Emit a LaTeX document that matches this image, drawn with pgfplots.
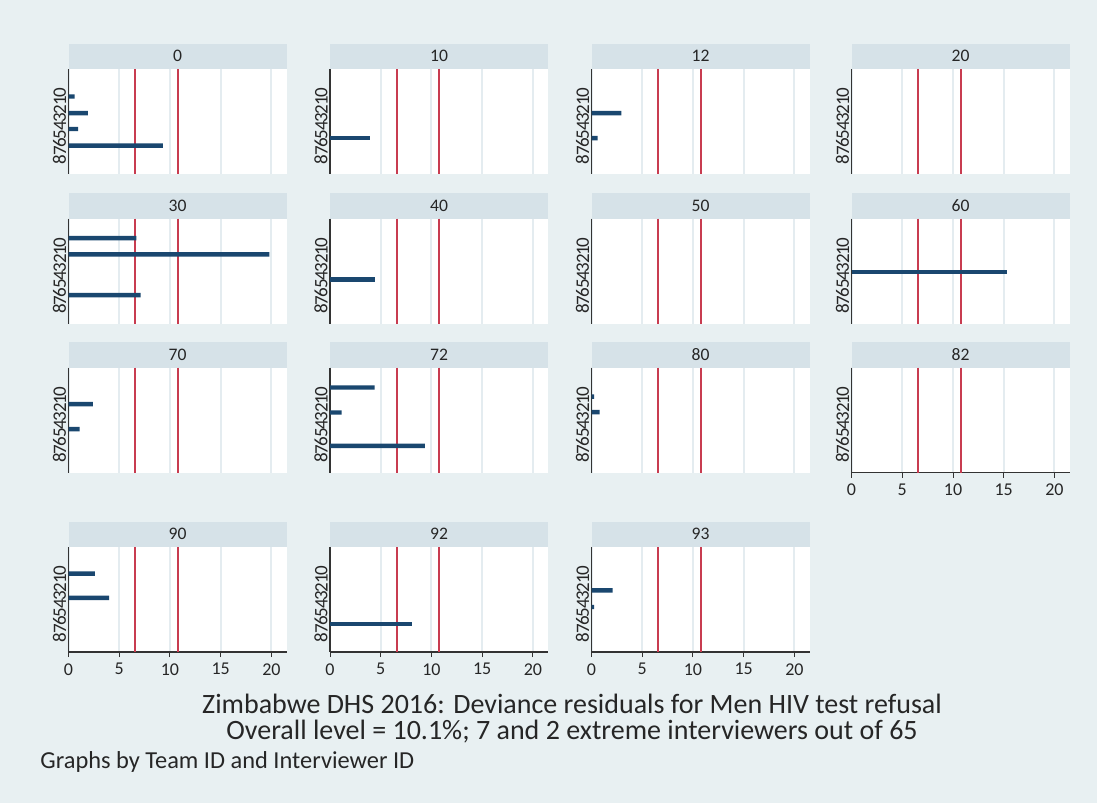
\documentclass[border=0pt]{standalone}
\usepackage{pgfplots}
\pgfplotsset{compat=1.18}
\usepackage{fontspec}
\setmainfont{Carlito}
\definecolor{bgcol}{RGB}{232,240,242}
\definecolor{stripcol}{RGB}{214,226,232}
\definecolor{barcol}{RGB}{26,71,111}
\definecolor{redcol}{RGB}{200,60,80}
\definecolor{gridcol}{RGB}{228,236,240}
\pgfplotsset{
  panel/.style={
    anchor=north west, scale only axis, width=109pt, height=52.5pt,
    xmin=0, xmax=21.48, ymin=-2.5, ymax=10.1, y dir=reverse,
    axis lines*=left, separate axis lines,
    axis line style={black!80, line width=0.6pt},
    axis background/.style={fill=white},
    xtick={0,5,10,15,20}, xmajorgrids, grid style={gridcol, line width=1pt},
    ytick={0,...,8},
    yticklabel style={rotate=90, anchor=south, font=\fontsize{9.5}{9.5}\selectfont, inner sep=1pt, xshift=-1.5pt, text=black!85},
    ytick style={draw=none},
    xtick align=outside, major tick length=2.5pt,
    xtick style={black!80, line width=0.5pt},
    xticklabel style={font=\fontsize{9}{9}\selectfont, inner sep=1pt, yshift=-2pt, text=black!85},
    /pgf/number format/assume math mode=true,
    clip=false,
  },
  noxaxis/.style={xticklabels={}, x axis line style={draw=none}, xtick style={draw=none}},
  bars/.style={xbar, bar width=2.2pt, fill=barcol, draw=none, forget plot},
}
\newcommand{\reflines}{%
  \addplot[redcol, line width=1pt] coordinates {(6.6,-2.5) (6.6,10.1)};
  \addplot[redcol, line width=1pt] coordinates {(10.75,-2.5) (10.75,10.1)};
}
% strip header: x (px), top of plot (px), label
\newcommand{\strip}[3]{%
  \fill[stripcol] ({#1*0.5pt},{-(#2-25.5)*0.5pt}) rectangle ({(#1+218)*0.5pt},{-#2*0.5pt});
  \node[font=\fontsize{8.8}{8.8}\selectfont, text=black!85] at ({(#1+109)*0.5pt},{-(#2-12.75)*0.5pt}) {#3};
}
\begin{document}
\begin{tikzpicture}
\fill[bgcol] (0,0) rectangle (548.5pt,-401.5pt);
% ---------- row 1 ----------
\strip{68.5}{69}{0}
\begin{axis}[panel, noxaxis, at={(34.25pt,-34.5pt)}]
  \reflines
  \addplot[bars] coordinates {(0.6,0.8) (1.9,2.8) (0.95,4.7) (9.3,6.7)};
\end{axis}
\strip{330}{69}{10}
\begin{axis}[panel, noxaxis, at={(165pt,-34.5pt)}]
  \reflines
  \addplot[bars] coordinates {(3.9,5.8)};
\end{axis}
\strip{591.5}{69}{12}
\begin{axis}[panel, noxaxis, at={(295.75pt,-34.5pt)}]
  \reflines
  \addplot[bars] coordinates {(2.95,2.8) (0.6,5.8)};
\end{axis}
\strip{851.5}{69}{20}
\begin{axis}[panel, noxaxis, at={(425.75pt,-34.5pt)}]
  \reflines
\end{axis}
% ---------- row 2 ----------
\strip{68.5}{218.5}{30}
\begin{axis}[panel, noxaxis, at={(34.25pt,-109.25pt)}]
  \reflines
  \addplot[bars] coordinates {(6.7,-0.15) (19.8,1.8) (7.1,6.7)};
\end{axis}
\strip{330}{218.5}{40}
\begin{axis}[panel, noxaxis, at={(165pt,-109.25pt)}]
  \reflines
  \addplot[bars] coordinates {(4.4,4.8)};
\end{axis}
\strip{591.5}{218.5}{50}
\begin{axis}[panel, noxaxis, at={(295.75pt,-109.25pt)}]
  \reflines
\end{axis}
\strip{851.5}{218.5}{60}
\begin{axis}[panel, noxaxis, at={(425.75pt,-109.25pt)}]
  \reflines
  \addplot[bars] coordinates {(15.3,3.9)};
\end{axis}
% ---------- row 3 ----------
\strip{68.5}{367.5}{70}
\begin{axis}[panel, noxaxis, at={(34.25pt,-183.75pt)}]
  \reflines
  \addplot[bars] coordinates {(2.4,1.9) (1.1,4.9)};
\end{axis}
\strip{330}{367.5}{72}
\begin{axis}[panel, noxaxis, at={(165pt,-183.75pt)}]
  \reflines
  \addplot[bars] coordinates {(4.4,-0.1) (1.15,2.9) (9.35,6.9)};
\end{axis}
\strip{591.5}{367.5}{80}
\begin{axis}[panel, noxaxis, at={(295.75pt,-183.75pt)}]
  \reflines
  \addplot[bars] coordinates {(0.25,1.0) (0.8,2.85)};
\end{axis}
\strip{851.5}{367.5}{82}
\begin{axis}[panel, at={(425.75pt,-183.75pt)}]
  \reflines
\end{axis}
% ---------- row 4 ----------
\strip{68.5}{547}{90}
\begin{axis}[panel, at={(34.25pt,-273.5pt)}]
  \reflines
  \addplot[bars] coordinates {(2.6,0.7) (4.0,3.6)};
\end{axis}
\strip{330}{547}{92}
\begin{axis}[panel, at={(165pt,-273.5pt)}]
  \reflines
  \addplot[bars] coordinates {(8.1,6.75)};
\end{axis}
\strip{591.5}{547}{93}
\begin{axis}[panel, at={(295.75pt,-273.5pt)}]
  \reflines
  \addplot[bars] coordinates {(2.07,2.7) (0.25,4.7)};
\end{axis}
% ---------- titles ----------
\node[font=\fontsize{14}{14}\selectfont, text=black!85] at (286pt,-352pt) {Zimbabwe DHS 2016: Deviance residuals for Men HIV test refusal};
\node[font=\fontsize{14}{14}\selectfont, text=black!85] at (286pt,-366pt) {Overall level = 10.1\%; 7 and 2 extreme interviewers out of 65};
\node[font=\fontsize{12.2}{12.2}\selectfont, text=black!85, anchor=west, inner sep=0pt] at (20pt,-381pt) {Graphs by Team ID and Interviewer ID};
\end{tikzpicture}
\end{document}
